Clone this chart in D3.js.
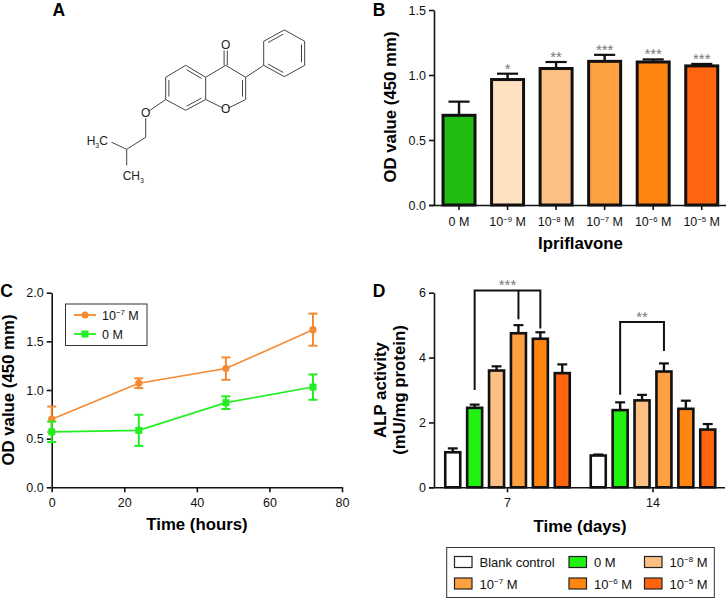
<!DOCTYPE html>
<html><head><meta charset="utf-8">
<script src="https://cdn.jsdelivr.net/npm/d3@7"></script>
<style>
html,body{margin:0;padding:0;background:#fff}
svg{display:block}
text{font-family:"Liberation Sans",Arial,sans-serif;fill:#111}
.tick text{font-size:12.5px}
.title{font-size:16.8px;font-weight:700;fill:#000}
.letter{font-size:17.5px;font-weight:700;fill:#000;text-anchor:middle}
.star{font-size:15px;fill:#777;text-anchor:middle}
.chem{font-size:12px;fill:#222}
</style></head><body>
<svg id="c" width="726" height="598"></svg>
<script>
// ---- Panel B data
const concLabelsB = ["0 M","10|−9| M","10|−8| M","10|−7| M","10|−6| M","10|−5| M"];
const odValues = [0.69,0.965,1.05,1.105,1.10,1.07];
const odErrors = [0.105,0.045,0.05,0.05,0.02,0.015];
const odStars = ["","*","**","***","***","***"];
const odColors = ["#22bb11","#ffe0c0","#fdc084","#fda040","#ff8410","#ff640e"];
const odTicks = [0,0.5,1,1.5];
// ---- Panel C data
const hours = [0,24,48,72];
const line107 = [0.70,1.07,1.22,1.62];
const err107 = [0.13,0.05,0.115,0.165];
const line0 = [0.57,0.585,0.87,1.03];
const err0 = [0.105,0.16,0.065,0.13];
const timeTicks = [0,20,40,60,80];
const odTicksC = [0,0.5,1,1.5,2];
// ---- Panel D data
const days = ["7","14"];
const seriesNames = ["Blank control","0 M","10|−8| M","10|−7| M","10|−6| M","10|−5| M"];
const seriesColors = ["#ffffff","#22f010","#fdc084","#fda040","#ff8410","#ff640e"];
const alpDay7 = [1.08,2.45,3.6,4.75,4.58,3.52];
const alpErr7 = [0.12,0.1,0.13,0.25,0.2,0.27];
const alpDay14 = [0.98,2.38,2.68,3.57,2.42,1.78];
const alpErr14 = [0.03,0.24,0.17,0.25,0.25,0.17];
const alpTicks = [0,2,4,6];
// ---- Significance brackets: day, top value, [series, bottom value]...
const bracket7 = {day:"7",top:6.07,stars:"***",legs:[[1,3.0],[3,5.18],[4,4.9]]};
const bracket14 = {day:"14",top:5.1,stars:"**",legs:[[1,2.85],[3,4.2]]};
// ---- Panel A molecule (lattice units)
const atoms = {O1:[3,3.67],C2:[4,2.85],C3:[4,1],C4:[3,0],C4a:[2,1],C8a:[2,2.85],C5:[1,0],C6:[0,1],C7:[0,2.85],C8:[1,3.75],
  O4:[3,-1.7],O7:[-1,4],Ca:[-1,6],Cb:[-1.95,7],Me2:[-1.95,8.8],Me1:[-2.85,6.3],
  P1:[4.9,0],P2:[4.9,-2],P3:[5.93,-2.95],P4:[6.95,-2],P5:[6.95,0],P6:[5.93,0.95]};
const bonds = [["O1","C2",0,.12,0],["C2","C3",1],["C3","C4"],["C4","C4a"],["C4a","C8a"],["C8a","O1",0,0,.12],
  ["C4a","C5",1],["C5","C6"],["C6","C7",1],["C7","C8"],["C8","C8a",1],
  ["C4","O4",2,0,.27],["C7","O7",0,0,.15],["O7","Ca",0,.2,0],["Ca","Cb"],["Cb","Me2",0,0,.25],["Cb","Me1",0,0,.15],
  ["C3","P1"],["P1","P2"],["P2","P3",1],["P3","P4"],["P4","P5",1],["P5","P6"],["P6","P1",1]];

const svg = d3.select("#c");
function rich(sel,str,fs){
  const parts = str.split("|");
  sel.text(null);
  parts.forEach((p,i)=>{
    const t = sel.append("tspan").text(p);
    if(i===1){t.attr("font-size",fs*0.62).attr("dy",-fs*0.36);}
    if(i===2){t.attr("dy",fs*0.36);}
  });
}
function styleAxis(g,w){
  g.selectAll("path,line").attr("stroke","#111").attr("stroke-width",w);
  g.select(".domain").attr("fill","none");
}
function bar(g,x,w,v,e,col,y,sw){
  g.append("line").attr("x1",x).attr("x2",x).attr("y1",y(v)).attr("y2",y(v+e)).attr("stroke","#111").attr("stroke-width",2.4);
  g.append("line").attr("x1",x-w*0.33).attr("x2",x+w*0.33).attr("y1",y(v+e)).attr("y2",y(v+e)).attr("stroke","#111").attr("stroke-width",2.2);
  g.append("rect").attr("x",x-w/2).attr("width",w).attr("y",y(v)).attr("height",y(0)-y(v)).attr("fill",col).attr("stroke","#111").attr("stroke-width",sw);
}
function rich2(sel,a,sub,c){
  sel.append("tspan").text(a);
  sel.append("tspan").attr("font-size",7).attr("dy",3).text(sub);
  if(c) sel.append("tspan").attr("dy",-3).text(c);
}

// ---- Panel A
{
  const sx=d3.scaleLinear().domain([0,1]).range([165.7,185.7]);
  const sy=d3.scaleLinear().domain([0,1]).range([65.3,77.3]);
  const g=svg.append("g");
  bonds.forEach(([a,b,d,s0,s1])=>{
    s0=s0||0;s1=s1||0;
    let x1=sx(atoms[a][0]),y1=sy(atoms[a][1]),x2=sx(atoms[b][0]),y2=sy(atoms[b][1]);
    const X1=x1+(x2-x1)*s0,Y1=y1+(y2-y1)*s0,X2=x2-(x2-x1)*s1,Y2=y2-(y2-y1)*s1;
    const ln=(p,q,r,s)=>g.append("line").attr("x1",p).attr("y1",q).attr("x2",r).attr("y2",s).attr("stroke","#444").attr("stroke-width",1);
    if(d===2){
      ln(X1-1.6,Y1,X2-1.6,Y2);ln(X1+1.6,Y1,X2+1.6,Y2);return;
    }
    ln(X1,Y1,X2,Y2);
    if(d===1){
      let cx,cy;
      if(a[0]==="P"){cx=sx(5.93);cy=sy(-1);}
      else if(a==="C2"){cx=sx(3);cy=sy(1.9);}
      else {cx=sx(1);cy=sy(1.9);}
      const mx=(x1+x2)/2,my=(y1+y2)/2;
      let nx=cx-mx,ny=cy-my;const L=Math.hypot(nx,ny);nx/=L;ny/=L;
      const o=3.2,k=.13;
      ln(x1+(x2-x1)*k+nx*o,y1+(y2-y1)*k+ny*o,x2-(x2-x1)*k+nx*o,y2-(y2-y1)*k+ny*o);
    }
  });
  const lab=(a,t,dx,dy,anchor)=>g.append("text").attr("class","chem").attr("x",sx(atoms[a][0])+(dx||0)).attr("y",sy(atoms[a][1])+(dy||0)).attr("text-anchor",anchor||"middle").text(t);
  lab("O1","O",0,4);lab("O4","O",0,4);lab("O7","O",0,4);
  const h=g.append("text").attr("class","chem").attr("x",sx(atoms.Me1[0])-22).attr("y",sy(atoms.Me1[1])+4).attr("text-anchor","start");
  rich2(h,"H","3","C");
  const m=g.append("text").attr("class","chem").attr("x",sx(atoms.Me2[0])-4).attr("y",sy(atoms.Me2[1])+9).attr("text-anchor","start");
  rich2(m,"CH","3","");
}

// ---- Panel B
{
  const x=d3.scaleBand().domain(concLabelsB).range([434.75,726]);
  const y=d3.scaleLinear().domain([0,1.5]).range([205,10]);
  const g=svg.append("g");
  concLabelsB.forEach((c,i)=>{
    bar(g,x(c)+x.bandwidth()/2,32,odValues[i],odErrors[i],odColors[i],y,3);
    g.append("text").attr("class","star").attr("x",x(c)+x.bandwidth()/2).attr("y",y(odValues[i]+odErrors[i])).text(odStars[i]);
  });
  const ax=g.append("g").attr("transform","translate(0,205)").call(d3.axisBottom(x).tickSizeOuter(0).tickSize(5).tickFormat(""));
  styleAxis(ax,1.6);
  ax.selectAll(".tick").append("text").attr("y",21).attr("text-anchor","middle").attr("font-size",12.5).each(function(d){rich(d3.select(this),d,12.5);});
  ax.select(".domain").attr("d","M429,0.5H726");
  const ay=g.append("g").attr("transform","translate(434,0)").call(d3.axisLeft(y).tickValues(odTicks).tickFormat(d3.format(".1f")).tickSize(5).tickSizeOuter(0));
  styleAxis(ay,1.6);
  ay.selectAll("text").attr("x",-8);
  g.append("text").attr("class","title").attr("text-anchor","middle").attr("transform","translate(396,107) rotate(-90)").text("OD value (450 mm)");
  g.append("text").attr("class","title").attr("text-anchor","middle").attr("x",580.5).attr("y",249).text("Ipriflavone");
}

// ---- Panel C
{
  const x=d3.scaleLinear().domain([0,80]).range([51.7,342]);
  const y=d3.scaleLinear().domain([0,2]).range([487.3,292.7]);
  const g=svg.append("g");
  const ax=g.append("g").attr("transform","translate(0,487.3)").call(d3.axisBottom(x).tickValues(timeTicks).tickSize(5).tickSizeOuter(0));
  styleAxis(ax,1.6);ax.selectAll("text").attr("y",11);
  const ay=g.append("g").attr("transform","translate(51.7,0)").call(d3.axisLeft(y).tickValues(odTicksC).tickFormat(d3.format(".1f")).tickSize(5).tickSizeOuter(0));
  styleAxis(ay,1.6);ay.selectAll("text").attr("x",-8);
  const line=d3.line().x((d,i)=>x(hours[i])).y(d=>y(d));
  const series=[[line107,err107,"#f58a32","c"],[line0,err0,"#22ee22","s"]];
  series.forEach(([v,e,col,sym])=>{
    g.append("path").attr("d",line(v)).attr("fill","none").attr("stroke",col).attr("stroke-width",1.6);
    v.forEach((d,i)=>{
      const X=x(hours[i]);
      g.append("line").attr("x1",X).attr("x2",X).attr("y1",y(d-e[i])).attr("y2",y(d+e[i])).attr("stroke",col).attr("stroke-width",2);
      [d-e[i],d+e[i]].forEach(w=>g.append("line").attr("x1",X-4.5).attr("x2",X+4.5).attr("y1",y(w)).attr("y2",y(w)).attr("stroke",col).attr("stroke-width",2));
      if(sym==="c") g.append("circle").attr("cx",X).attr("cy",y(d)).attr("r",3.6).attr("fill",col);
      else g.append("rect").attr("x",X-3.5).attr("y",y(d)-3.5).attr("width",7).attr("height",7).attr("fill",col);
    });
  });
  g.append("text").attr("class","title").attr("text-anchor","middle").attr("transform","translate(14,390) rotate(-90)").text("OD value (450 mm)");
  g.append("text").attr("class","title").attr("text-anchor","middle").attr("x",197).attr("y",530).text("Time (hours)");
  // legend
  const l=g.append("g");
  l.append("rect").attr("x",65.5).attr("y",304).attr("width",81.5).attr("height",41.5).attr("fill","#fff").attr("stroke","#333").attr("stroke-width",1);
  [[315,"#f58a32","10|−7| M","c"],[334,"#22ee22","0 M","s"]].forEach(([yy,col,t,sym])=>{
    l.append("line").attr("x1",74).attr("x2",96).attr("y1",yy).attr("y2",yy).attr("stroke",col).attr("stroke-width",1.8);
    if(sym==="c") l.append("circle").attr("cx",85).attr("cy",yy).attr("r",3.6).attr("fill",col);
    else l.append("rect").attr("x",81.5).attr("y",yy-3.5).attr("width",7).attr("height",7).attr("fill",col);
    const tx=l.append("text").attr("x",102).attr("y",yy+4.5).attr("font-size",12.5);
    rich(tx,t,12.5);
  });
}

// ---- Panel D
{
  const x0=d3.scaleBand().domain(days).range([434.75,725.75]);
  const x1=d3.scaleBand().domain(d3.range(6)).range([-65.7,65.7]);
  const y=d3.scaleLinear().domain([0,6]).range([487.3,292.7]);
  const g=svg.append("g");
  const cx=(day,i)=>x0(day)+x0.bandwidth()/2+x1(i)+x1.bandwidth()/2;
  [[days[0],alpDay7,alpErr7],[days[1],alpDay14,alpErr14]].forEach(([day,v,e])=>{
    v.forEach((d,i)=>bar(g,cx(day,i),15,d,e[i],seriesColors[i],y,2.6));
  });
  const ax=g.append("g").attr("transform","translate(0,487.3)").call(d3.axisBottom(x0).tickSize(5).tickSizeOuter(0));
  styleAxis(ax,1.6);ax.selectAll("text").attr("y",11);
  ax.select(".domain").attr("d","M429,0.5H725");
  const ay=g.append("g").attr("transform","translate(434,0)").call(d3.axisLeft(y).tickValues(alpTicks).tickFormat(d3.format("d")).tickSize(5).tickSizeOuter(0));
  styleAxis(ay,1.6);ay.selectAll("text").attr("x",-8);
  [bracket7,bracket14].forEach(b=>{
    const xs=b.legs.map(l=>cx(b.day,l[0]));
    g.append("path").attr("fill","none").attr("stroke","#111").attr("stroke-width",2)
      .attr("d","M"+xs[0]+","+y(b.legs[0][1])+"V"+y(b.top)+"H"+xs[xs.length-1]+"V"+y(b.legs[b.legs.length-1][1]));
    b.legs.slice(1,-1).forEach(l=>g.append("line").attr("x1",cx(b.day,l[0])).attr("x2",cx(b.day,l[0])).attr("y1",y(b.top)).attr("y2",y(l[1])).attr("stroke","#111").attr("stroke-width",2));
    g.append("text").attr("class","star").attr("x",(xs[0]+xs[xs.length-1])/2).attr("y",y(b.top)).text(b.stars);
  });
  g.append("text").attr("class","title").attr("text-anchor","middle").attr("transform","translate(386,390) rotate(-90)").text("ALP activity");
  g.append("text").attr("class","title").attr("text-anchor","middle").attr("transform","translate(405,390) rotate(-90)").text("(mU/mg protein)");
  g.append("text").attr("class","title").attr("text-anchor","middle").attr("x",580).attr("y",532).text("Time (days)");
  // legend
  const l=g.append("g");
  l.append("rect").attr("x",446.7).attr("y",547.5).attr("width",267.6).attr("height",50).attr("fill","#fff").attr("stroke","#333").attr("stroke-width",1);
  const cols=[454.5,569,644.5], rows=[556.5,578];
  seriesNames.forEach((n,i)=>{
    const cI=i%3,rI=Math.floor(i/3);
    l.append("rect").attr("x",cols[cI]).attr("y",rows[rI]).attr("width",17.5).attr("height",11).attr("fill",seriesColors[i]).attr("stroke","#222").attr("stroke-width",1.2);
    const t=l.append("text").attr("x",cols[cI]+25).attr("y",rows[rI]+10.5).attr("font-size",13);
    rich(t,n,13);
  });
}

// ---- Panel letters
[["A",58.7,16],["B",379,16],["C",6.5,297],["D",379,297]].forEach(([t,x,y])=>svg.append("text").attr("class","letter").attr("x",x).attr("y",y).text(t));
</script></body></html>
